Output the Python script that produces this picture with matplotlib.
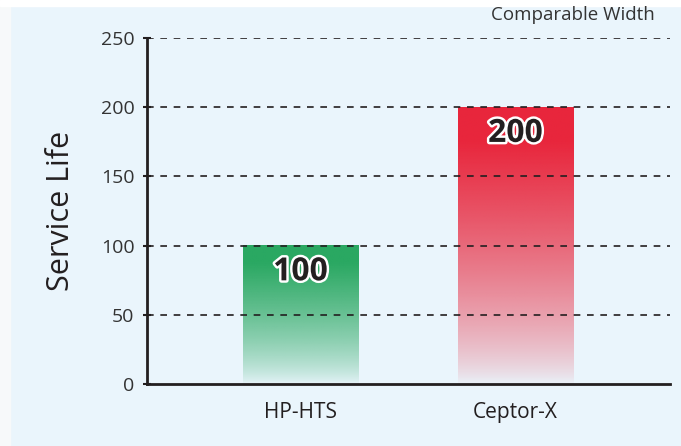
import numpy as np
import matplotlib
matplotlib.use("Agg")
import matplotlib.pyplot as plt
import matplotlib.patheffects as pe
from matplotlib.colors import to_rgb

products = ["HP-HTS", "Ceptor-X"]
service_life = [100, 200]
bar_colors = ["#2aa862", "#e8263c"]
y_ticks = [0, 50, 100, 150, 200, 250]

plt.rcParams["font.family"] = ["Open Sans", "DejaVu Sans"]

bg = "#eaf5fc"
fig = plt.figure(figsize=(6.81, 4.46), dpi=100, facecolor=bg)
# white margin at the left / top edge of the panel
fig.patches.append(plt.Rectangle((0, 0), 10 / 681, 1, transform=fig.transFigure,
                                 color="#f7f9fa", zorder=-1))
fig.patches.append(plt.Rectangle((0, 1 - 6 / 446), 1, 6 / 446, transform=fig.transFigure,
                                 color="white", zorder=-1))

ax = fig.add_axes([147 / 681, 62 / 446, 523 / 681, 346 / 446])
ax.set_facecolor(bg)

width = 0.535
x = np.arange(len(products))
t = np.linspace(0, 1, 256).reshape(-1, 1)  # 0 = bottom, 1 = top
for xi, val, col in zip(x, service_life, bar_colors):
    rgba = np.zeros((256, 1, 4))
    rgba[..., :3] = to_rgb(col)
    rgba[..., 3] = np.clip(t ** 0.7 * 1.1, 0.03, 1.0)
    ax.imshow(rgba, extent=(xi - width / 2, xi + width / 2, 0, val),
              origin="lower", aspect="auto", zorder=2, interpolation="bilinear")
    ax.annotate(str(val), (xi, val), xytext=(0, -7), textcoords="offset points",
                ha="center", va="top", fontsize=23, fontweight="bold", color="#231f20",
                zorder=4, path_effects=[pe.withStroke(linewidth=3.5, foreground="white")])

ax.set_xlim(-0.714, 1.719)
ax.set_ylim(0, 250)
ax.set_yticks(y_ticks)
ax.set_xticks(x)
ax.set_xticklabels(products)
ax.tick_params(axis="y", labelsize=14, colors="#231f20", labelcolor="#333333",
               direction="inout", length=6, width=1.5, pad=6)
ax.tick_params(axis="x", labelsize=15, length=0, pad=13, labelcolor="#231f20")

for yv in y_ticks[1:]:
    ax.axhline(yv, color="#231f20", lw=1.2, ls=(0, (4, 4)), zorder=3)

for s in ["top", "right"]:
    ax.spines[s].set_visible(False)
for s in ["left", "bottom"]:
    ax.spines[s].set_color("#231f20")
    ax.spines[s].set_linewidth(2)
    ax.spines[s].set_zorder(5)

ax.set_ylabel("Service Life", fontsize=22, color="#231f20", labelpad=18)
fig.text(655 / 681, 1 - 15 / 446, "Comparable Width", ha="right", va="center",
         fontsize=13.5, color="#333333")

fig.savefig("out.png", dpi=100, facecolor=fig.get_facecolor())
